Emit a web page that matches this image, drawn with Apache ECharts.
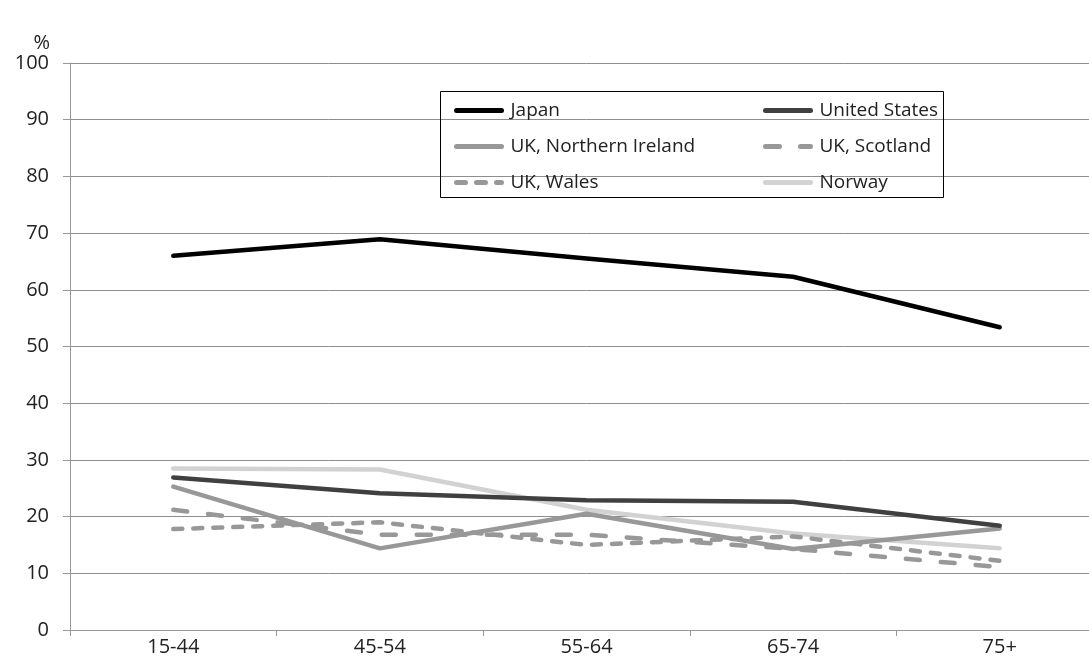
<!DOCTYPE html>
<html>
<head>
<meta charset="utf-8">
<script src="https://cdn.jsdelivr.net/npm/echarts@6/dist/echarts.min.js"></script>
<style>html,body{margin:0;padding:0;background:#fff;overflow:hidden;width:1089px;height:669px;}#c{width:1103px;height:669px;}</style>
</head>
<body>
<div id="c"></div>
<script>
const categories = ['15-44', '45-54', '55-64', '65-74', '75+'];
const japan = [66.0, 68.9, 65.5, 62.3, 53.4];
const unitedStates = [26.9, 24.1, 22.9, 22.6, 18.4];
const ukNorthernIreland = [25.3, 14.4, 20.5, 14.3, 17.9];
const ukScotland = [21.2, 16.8, 16.8, 14.3, 11.1];
const ukWales = [17.8, 19.0, 15.0, 16.5, 12.2];
const norway = [28.5, 28.3, 21.2, 17.0, 14.4];
const yTicks = { min: 0, max: 100, interval: 10 };

const FONT = 'Open Sans';
const chart = echarts.init(document.getElementById('c'), null, { renderer: 'canvas' });

function mk(name, data, color, type, z) {
  return {
    name, type: 'line', data, symbol: 'none', smooth: false, z: z,
    lineStyle: { color, width: 4.5, type: type || 'solid', cap: 'round', join: 'round' },
    itemStyle: { color },
    emphasis: { disabled: true }
  };
}

const legendText = { fontFamily: FONT, fontSize: 19, color: '#222', padding: [0, 0, 0, 4] };
const legendCommon = {
  orient: 'vertical', top: 96, itemWidth: 45, itemHeight: 14, itemGap: 17,
  textStyle: legendText, selectedMode: false,
  itemStyle: { opacity: 0 },
  lineStyle: { width: 5 }
};

chart.setOption({
  animation: false,
  backgroundColor: '#fff',
  grid: { left: 70, top: 63, right: 0, bottom: 39, containLabel: false },
  legend: [
    Object.assign({ data: ['Japan', 'UK, Northern Ireland', 'UK, Wales'], left: 449 }, legendCommon),
    Object.assign({ data: ['United States', 'UK, Scotland', 'Norway'], left: 758 }, legendCommon)
  ],
  graphic: [{
    type: 'rect', left: 440, top: 91, z: 100,
    shape: { width: 503, height: 106 },
    style: { fill: 'rgba(0,0,0,0)', stroke: '#000', lineWidth: 1 }
  }],
  xAxis: {
    type: 'category', data: categories, boundaryGap: true,
    axisLine: { lineStyle: { color: '#999', width: 1 } },
    axisTick: { show: true, length: 6, lineStyle: { color: '#999' } },
    axisLabel: { fontFamily: FONT, fontSize: 20, color: '#222', margin: 7 },
    splitLine: { show: false }
  },
  yAxis: {
    type: 'value', min: yTicks.min, max: yTicks.max, interval: yTicks.interval,
    name: '%', nameLocation: 'end', nameGap: 8,
    nameTextStyle: { fontFamily: FONT, fontSize: 20, color: '#222', align: 'right', padding: [0, 20, 0, 0] },
    axisLine: { show: true, lineStyle: { color: '#999', width: 1 } },
    axisTick: { show: true, length: 7, lineStyle: { color: '#999' } },
    axisLabel: { fontFamily: FONT, fontSize: 20, color: '#222', margin: 21 },
    splitLine: { show: true, lineStyle: { color: '#8e8e8e', width: 1 } }
  },
  series: [
    mk('Norway', norway, '#d2d2d2', 'solid', 2),
    mk('UK, Wales', ukWales, '#989898', [9, 11], 3),
    mk('UK, Scotland', ukScotland, '#989898', [14, 21], 3),
    mk('UK, Northern Ireland', ukNorthernIreland, '#989898', 'solid', 4),
    mk('United States', unitedStates, '#404040', 'solid', 5),
    mk('Japan', japan, '#000000', 'solid', 6)
  ]
});
</script>
</body>
</html>
